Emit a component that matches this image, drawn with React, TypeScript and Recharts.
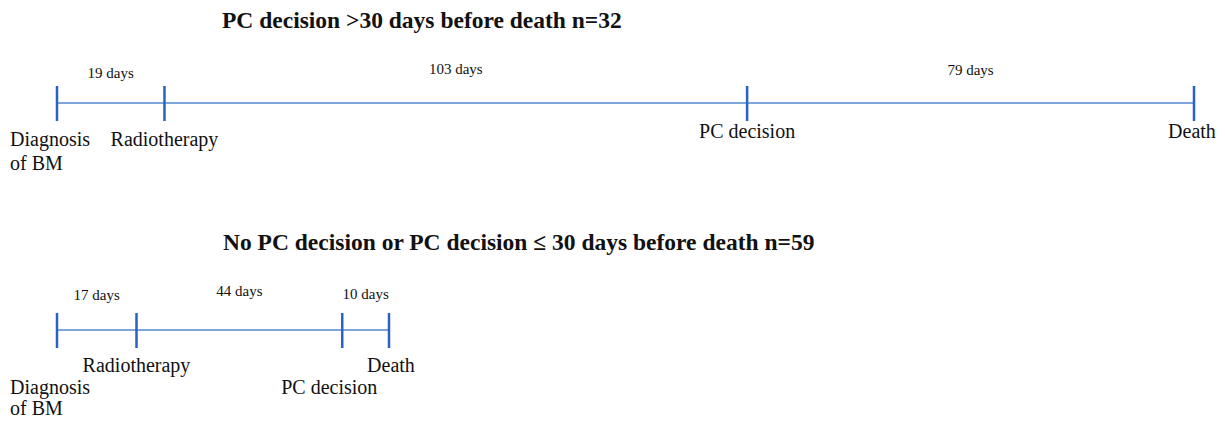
import React from 'react';
import { ComposedChart, Line, Scatter, XAxis, YAxis } from 'recharts';

// timeline 1
const topTitle = 'PC decision >30 days before death n=32';
const topEvents = ['Diagnosis\nof BM', 'Radiotherapy', 'PC decision', 'Death'];
const topDays = [19, 103, 79];

// timeline 2
const bottomTitle = 'No PC decision or PC decision ≤ 30 days before death n=59';
const bottomEvents = ['Diagnosis\nof BM', 'Radiotherapy', 'PC decision', 'Death'];
const bottomDays = [17, 44, 10];

// label placement (styling only)
type LabelPos = { anchor: 'start' | 'middle' | 'end'; dx: number; dy: number };
const topEventPos: LabelPos[] = [
  { anchor: 'start', dx: -47, dy: 43 },
  { anchor: 'middle', dx: 0, dy: 43 },
  { anchor: 'middle', dx: 0, dy: 35 },
  { anchor: 'middle', dx: -2, dy: 35 },
];
const topGapDy = [-25, -29, -28];
const bottomEventPos: LabelPos[] = [
  { anchor: 'start', dx: -47, dy: 64 },
  { anchor: 'middle', dx: 0, dy: 42 },
  { anchor: 'middle', dx: -13, dy: 64 },
  { anchor: 'middle', dx: 2, dy: 42 },
];
const bottomGapDy = [-30, -34, -31];

const LINE_COLOR = '#7ea5dc';
const TICK_COLOR = '#2862c2';
const FONT = '"Liberation Serif", "Times New Roman", serif';

interface TimelineProps {
  events: string[];
  days: number[];
  eventPos: LabelPos[];
  gapDy: number[];
  lineGap: number;
  plotWidth: number;
  top: number;
}

const Timeline: React.FC<TimelineProps> = ({ events, days, eventPos, gapDy, lineGap, plotWidth, top }) => {
  const starts = days.reduce<number[]>((acc, d) => [...acc, acc[acc.length - 1] + d], [0]);
  const total = starts[starts.length - 1];
  const eventData = events.map((label, idx) => ({ day: starts[idx], y: 0, label, idx }));
  const gapData = days.map((d, idx) => ({ day: starts[idx] + d / 2, y: 0, label: `${d} days`, idx }));

  const renderEvent = (p: any) => {
    const { cx, cy, payload } = p;
    const pos = eventPos[payload.idx];
    const lines: string[] = payload.label.split('\n');
    return (
      <g>
        <line x1={cx} x2={cx} y1={cy - 17} y2={cy + 18} stroke={TICK_COLOR} strokeWidth={2.5} />
        <text
          x={cx + pos.dx}
          y={cy + pos.dy}
          textAnchor={pos.anchor}
          fontSize={20}
          fontFamily={FONT}
          fill="#111"
        >
          {lines.map((l, i) => (
            <tspan key={i} x={cx + pos.dx} dy={i === 0 ? 0 : lineGap}>
              {l}
            </tspan>
          ))}
        </text>
      </g>
    );
  };

  const renderGap = (p: any) => {
    const { cx, cy, payload } = p;
    return (
      <text x={cx} y={cy + gapDy[payload.idx]} textAnchor="middle" fontSize={15} fontFamily={FONT} fill="#111">
        {payload.label}
      </text>
    );
  };

  return (
    <div style={{ position: 'absolute', left: 0, top }}>
      <ComposedChart
        width={1225}
        height={214}
        margin={{ top: 0, right: 1225 - 57 - plotWidth, bottom: 0, left: 57 }}
      >
        <XAxis type="number" dataKey="day" domain={[0, total]} hide />
        <YAxis type="number" dataKey="y" domain={[-1, 1]} hide />
        <Line
          data={eventData}
          dataKey="y"
          type="linear"
          stroke={LINE_COLOR}
          strokeWidth={2}
          dot={false}
          isAnimationActive={false}
        />
        <Scatter data={eventData} dataKey="y" shape={renderEvent} isAnimationActive={false} />
        <Scatter data={gapData} dataKey="y" shape={renderGap} isAnimationActive={false} />
      </ComposedChart>
    </div>
  );
};

const titleStyle: React.CSSProperties = {
  position: 'absolute',
  fontFamily: FONT,
  fontWeight: 'bold',
  fontSize: 23.5,
  lineHeight: '24px',
  whiteSpace: 'nowrap',
  color: '#111',
};

export default function App() {
  return (
    <div
      style={{
        position: 'absolute',
        left: 0,
        top: 0,
        width: 1225,
        height: 424,
        overflow: 'hidden',
        background: '#fff',
      }}
    >
      <Timeline
        events={topEvents}
        days={topDays}
        eventPos={topEventPos}
        gapDy={topGapDy}
        lineGap={24}
        plotWidth={1137}
        top={-4}
      />
      <Timeline
        events={bottomEvents}
        days={bottomDays}
        eventPos={bottomEventPos}
        gapDy={bottomGapDy}
        lineGap={21}
        plotWidth={332}
        top={223}
      />
      <div style={{ ...titleStyle, left: 222, top: 8 }}>{topTitle}</div>
      <div style={{ ...titleStyle, left: 223, top: 230 }}>{bottomTitle}</div>
    </div>
  );
}
